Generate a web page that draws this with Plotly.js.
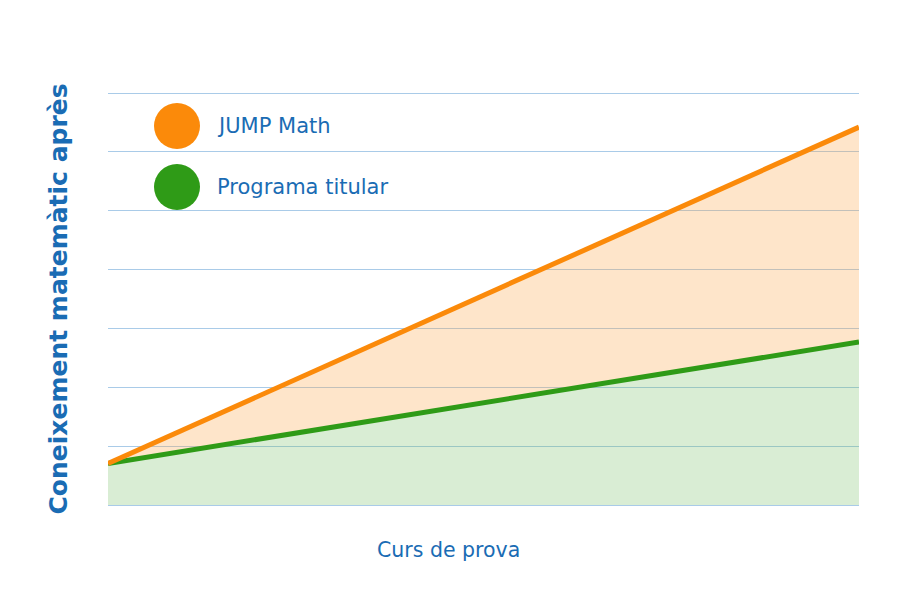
<!DOCTYPE html>
<html>
<head>
<meta charset="utf-8">
<script src="https://cdn.plot.ly/plotly-3.0.1.min.js"></script>
<style>html,body{margin:0;padding:0;background:#fff;}#chart{width:900px;height:615px;}</style>
</head>
<body>
<div id="chart"></div>
<script>
// Data
const xPoints = [0, 1];
const jumpMath = [0.705, 6.42];
const programaTitular = [0.705, 2.77];
const seriesNames = ["JUMP Math", "Programa titular"];
const yTitle = "Coneixement matemàtic après";
const xTitle = "Curs de prova";

const blue = "#1a6cb4";
const orange = "#fb8a0a";
const green = "#2f9b17";
const font = "DejaVu Sans, Verdana, sans-serif";

const W = 900, H = 615;
const m = {l: 108, r: 41, t: 90, b: 107};
const pw = W - m.l - m.r, ph = H - m.t - m.b;
const eps = 3 * 7 / 412;
const yMin = -eps, yMax = 7 + eps;
const px = v => (v - m.l) / pw;
const py = v => (H - m.b - v) / ph;

const traces = [
  {
    x: xPoints, y: programaTitular, name: seriesNames[1], type: "scatter", mode: "lines",
    line: {color: green, width: 5}, fill: "tozeroy", fillcolor: "rgba(120,190,100,0.28)",
    showlegend: false, hoverinfo: "skip"
  },
  {
    x: xPoints, y: jumpMath, name: seriesNames[0], type: "scatter", mode: "lines",
    line: {color: orange, width: 5}, fill: "tonexty", fillcolor: "rgba(252,170,80,0.3)",
    showlegend: false, hoverinfo: "skip"
  }
];

const legendColors = [orange, green];
const legendY = [126, 187];
const shapes = legendColors.map((c, i) => ({
  type: "circle", xref: "paper", yref: "paper",
  xsizemode: "pixel", ysizemode: "pixel",
  xanchor: px(177), yanchor: py(legendY[i]),
  x0: -23, x1: 23, y0: -23, y1: 23,
  fillcolor: c, line: {width: 0}
}));
const annotations = seriesNames.map((n, i) => ({
  text: n, xref: "paper", yref: "paper", x: px(215), y: py(legendY[i]),
  xanchor: "left", yanchor: "middle", showarrow: false,
  font: {family: font, size: 21, color: blue}
}));
annotations.push({
  text: xTitle, xref: "paper", yref: "paper", x: px(448), y: py(550),
  xanchor: "center", yanchor: "middle", showarrow: false,
  font: {family: font, size: 20.5, color: blue}
});

const layout = {
  width: W, height: H, margin: m,
  paper_bgcolor: "#fff", plot_bgcolor: "#fff",
  showlegend: false,
  xaxis: {
    range: [0, 1], showgrid: false, zeroline: false, showticklabels: false, ticks: "",
    showline: false, fixedrange: true
  },
  yaxis: {
    range: [yMin, yMax], dtick: 1, tick0: 0, showgrid: true, gridcolor: "#a9cbe8", gridwidth: 1,
    zeroline: false, showticklabels: false, ticks: "", showline: false, fixedrange: true,
    title: {text: yTitle, font: {family: font, size: 25, color: blue, weight: "bold"}, standoff: 32}
  },
  shapes: shapes,
  annotations: annotations
};

Plotly.newPlot("chart", traces, layout, {displayModeBar: false, staticPlot: true});
</script>
</body>
</html>
